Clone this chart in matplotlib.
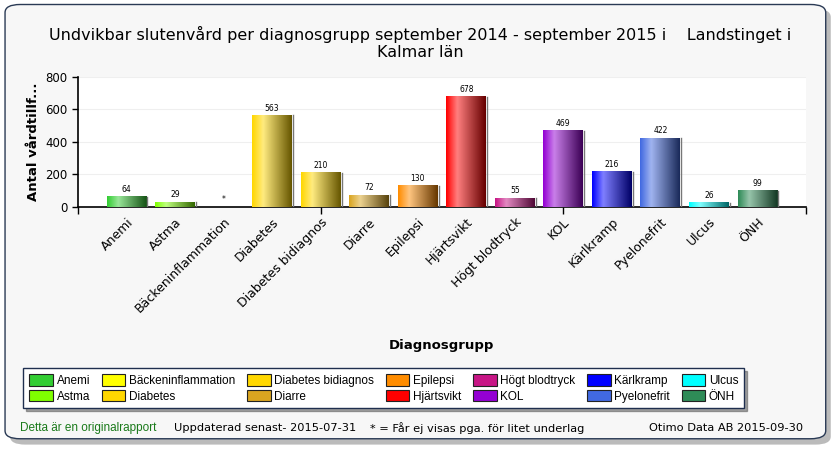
import numpy as np
import matplotlib
matplotlib.use("Agg")
import matplotlib.pyplot as plt
from matplotlib.colors import to_rgb
from matplotlib.patches import FancyBboxPatch, Patch

plt.rcParams['font.family'] = ['DejaVu Sans']
smal = ['Liberation Sans Narrow', 'Liberation Sans', 'DejaVu Sans']

# data
kategorier = ["Anemi", "Astma", "Bäckeninflammation", "Diabetes", "Diabetes bidiagnos",
              "Diarre", "Epilepsi", "Hjärtsvikt", "Högt blodtryck", "KOL", "Kärlkramp",
              "Pyelonefrit", "Ulcus", "ÖNH"]
antal = [64, 29, None, 563, 210, 72, 130, 678, 55, 469, 216, 422, 26, 99]
farger = ["#32CD32", "#7FFF00", "#FFFF00", "#FFD700", "#FFD700", "#DAA520", "#FF8C00",
          "#FF0000", "#C71585", "#9400D3", "#0000FF", "#4169E1", "#00FFFF", "#2E8B57"]
y_ticks = [0, 200, 400, 600, 800]

titel = "Undvikbar slutenvård per diagnosgrupp september 2014 - september 2015 i    Landstinget i\nKalmar län"

fig = plt.figure(figsize=(8.4, 4.5), dpi=100)
fig.patch.set_facecolor("white")

# ram med skugga
skugga = FancyBboxPatch((0.012, 0.012), 0.977, 0.968, boxstyle="round,pad=0,rounding_size=0.018",
                        transform=fig.transFigure, facecolor="#bbbbbb", edgecolor="none", zorder=-3)
ram = FancyBboxPatch((0.006, 0.025), 0.977, 0.965, boxstyle="round,pad=0,rounding_size=0.018",
                     transform=fig.transFigure, facecolor="#f7f7f7", edgecolor="#2a3a55",
                     linewidth=1.0, zorder=-2)
fig.patches.extend([skugga, ram])

fig.text(0.5, 0.905, titel, ha="center", va="center", fontsize=11.5, linespacing=1.15)

ax = fig.add_axes([0.0929, 0.54, 0.8666, 0.289])
x = np.arange(1, len(kategorier) + 1)
hojd = [v if v is not None else 0 for v in antal]
staplar = ax.bar(x, hojd, width=0.82, color=farger, edgecolor="none", zorder=2)

# gradient i staplarna
for st, f in zip(staplar, farger):
    if st.get_height() <= 0:
        continue
    c = np.array(to_rgb(f))
    t = np.linspace(0, 1, 60)
    rgb = []
    for tt in t:
        if tt < 0.28:
            k = tt / 0.28
            col = c * (1 - 0.5 * k) + 0.5 * k
        else:
            k = (tt - 0.28) / 0.72
            ljus = c * 0.5 + 0.5
            col = ljus * (1 - k) + c * 0.4 * k
        rgb.append(col)
    img = np.array(rgb)[None, :, :]
    x0 = st.get_x()
    ax.imshow(img, extent=(x0, x0 + st.get_width(), 0, st.get_height()),
              aspect="auto", zorder=3, interpolation="bilinear")
    ax.plot([x0 + st.get_width() + 0.02] * 2, [0, st.get_height()], color="#777777",
            lw=1, zorder=3)

ax.set_xlim(0, 15)
ax.set_ylim(0, 800)

for xi, v in zip(x, antal):
    etikett = str(v) if v is not None else "*"
    ax.text(xi, (v or 0) + 18, etikett, ha="center", va="bottom", fontsize=5.5, zorder=4)

ax.set_facecolor("white")
ax.grid(axis="y", color="#efefef", lw=0.8, zorder=0)
ax.set_axisbelow(True)
for s in ["top", "right"]:
    ax.spines[s].set_visible(False)
ax.spines["left"].set_linewidth(1.2)
ax.spines["bottom"].set_linewidth(1.2)

ax.set_yticks(y_ticks)
ax.tick_params(axis="y", labelsize=8.5, length=4, width=1)
ax.xaxis.remove_overlapping_locs = False
ax.set_xticks([0, 5, 10, 15])
ax.set_xticklabels([])
ax.tick_params(axis="x", which="major", length=5, width=1)
ax.set_xticks(x, minor=True)
ax.set_xticklabels(kategorier, minor=True, rotation=45, ha="right",
                   rotation_mode="anchor", fontsize=9)
ax.tick_params(axis="x", which="minor", length=0, pad=6)

ax.set_ylabel("Antal vårdtillf...", fontsize=9.5, fontweight="bold", labelpad=4)
fig.text(0.526, 0.232, "Diagnosgrupp", ha="center", va="center", fontsize=9.5, fontweight="bold")

# legend
handtag = [Patch(facecolor=f, edgecolor="#222222", linewidth=0.8) for f in farger]
leg = fig.legend(handtag, kategorier, ncol=7, loc="center", bbox_to_anchor=(0.457, 0.137),
                 prop={'family': smal, 'size': 8.5}, frameon=True, fancybox=False, shadow=True,
                 handlelength=2.0, handleheight=1.1, handletextpad=0.3,
                 columnspacing=1.0, labelspacing=0.25, borderpad=0.5)
leg.get_frame().set_edgecolor("#1f2f4f")
leg.get_frame().set_linewidth(1.0)

fig.text(0.024, 0.048, "Detta är en originalrapport", color="#1a7a1a", fontsize=8.5,
         va="center", family=smal)
fig.text(0.207, 0.048, "Uppdaterad senast- 2015-07-31", fontsize=8.2, va="center")
fig.text(0.44, 0.048, "* = Får ej visas pga. för litet underlag", fontsize=8.2, va="center")
fig.text(0.956, 0.048, "Otimo Data AB 2015-09-30", fontsize=8.2, va="center", ha="right")

fig.savefig("out.png", dpi=100)
